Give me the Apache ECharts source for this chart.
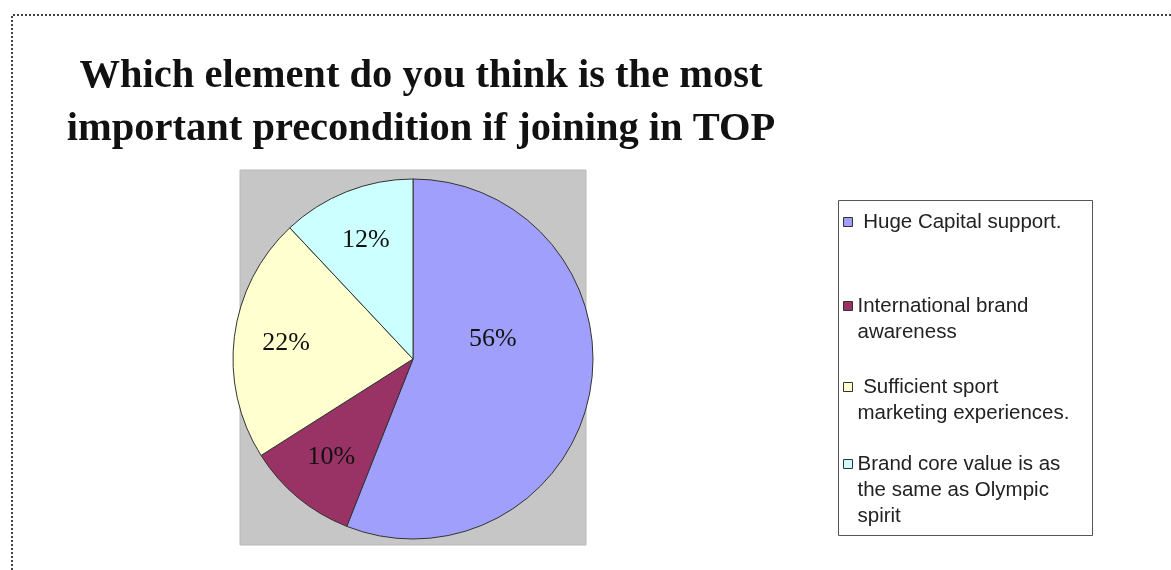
<!DOCTYPE html>
<html>
<head>
<meta charset="utf-8">
<script src="https://cdn.jsdelivr.net/npm/echarts@6/dist/echarts.min.js"></script>
<style>
  html, body { margin: 0; padding: 0; background: #fff; }
  #main { width: 1171px; height: 570px; }
</style>
</head>
<body>
<div id="main"></div>
<script>
// chart data
var categories = [
  'Huge Capital support.',
  'International brand awareness',
  'Sufficient sport marketing experiences.',
  'Brand core value is as the same as Olympic spirit'
];
var shares = [56, 10, 22, 12];
// how the legend breaks each name into lines
var legendLines = [
  ' Huge Capital support.',
  'International brand\nawareness',
  ' Sufficient sport\nmarketing experiences.',
  'Brand core value is as\nthe same as Olympic\nspirit'
];
var colors = ['#a0a0fc', '#993366', '#ffffd0', '#ccffff'];

var chartDom = document.getElementById('main');
var myChart = echarts.init(chartDom);
var option;

// one legend per item so each sits where the original places it.
// blank lines in front keep the marker level with the first text line
var legendTops = [209, 267, 348, 399];
var legends = categories.map(function (name, i) {
  var n = legendLines[i].split('\n').length;
  var pad = new Array(n).join('\n');
  return {
    show: true,
    orient: 'vertical',
    left: 843,
    top: legendTops[i],
    padding: 0,
    data: [name],
    icon: 'rect',
    itemWidth: 9,
    itemHeight: 9,
    itemStyle: { borderColor: '#333', borderWidth: 1 },
    selectedMode: false,
    formatter: function () { return pad + legendLines[i]; },
    textStyle: {
      fontFamily: 'Liberation Sans',
      fontSize: 20.5,
      lineHeight: 26,
      color: '#222'
    }
  };
});

option = {
  backgroundColor: '#fff',
  color: colors,
  title: {
    text: 'Which element do you think is the most\nimportant precondition if joining in TOP',
    left: 416,
    top: 45,
    textAlign: 'center',
    textStyle: {
      fontFamily: 'Liberation Serif',
      fontWeight: 'bold',
      fontSize: 40.5,
      lineHeight: 53,
      color: '#111'
    }
  },
  legend: legends,
  graphic: [
    {
      type: 'polyline',
      shape: { points: [[12, 570], [12, 15], [1171, 15]] },
      style: { stroke: '#444', lineWidth: 2, lineDash: [2, 2], fill: null }
    },
    {
      type: 'rect',
      shape: { x: 240, y: 170, width: 346, height: 375 },
      style: { fill: '#c6c6c6', stroke: '#b8b8b8', lineWidth: 1 }
    },
    {
      type: 'rect',
      shape: { x: 838.5, y: 200.5, width: 254, height: 335 },
      style: { fill: '#fff', stroke: '#555', lineWidth: 1 }
    }
  ],
  series: [
    {
      type: 'pie',
      radius: 180,
      center: [413, 359],
      startAngle: 90,
      clockwise: true,
      silent: true,
      label: { show: false },
      labelLine: { show: false },
      itemStyle: { borderColor: '#333', borderWidth: 1 },
      data: categories.map(function (name, i) {
        return { name: name, value: shares[i] };
      })
    },
    {
      // label layer: invisible wedges, so the percentages sit further out
      type: 'pie',
      radius: [0, 250],
      center: [413, 359],
      startAngle: 90,
      clockwise: true,
      silent: true,
      legendHoverLink: false,
      itemStyle: { color: 'rgba(0,0,0,0)', borderWidth: 0 },
      label: {
        show: true,
        position: 'inside',
        formatter: '{c}%',
        fontFamily: 'Liberation Serif',
        fontSize: 26,
        color: '#111'
      },
      labelLine: { show: false },
      data: categories.map(function (name, i) {
        var item = { name: name + ' ', value: shares[i] };
        if (i === 0) item.label = { offset: [-46, -44] };
        return item;
      })
    }
  ]
};

option && myChart.setOption(option);
</script>
</body>
</html>
